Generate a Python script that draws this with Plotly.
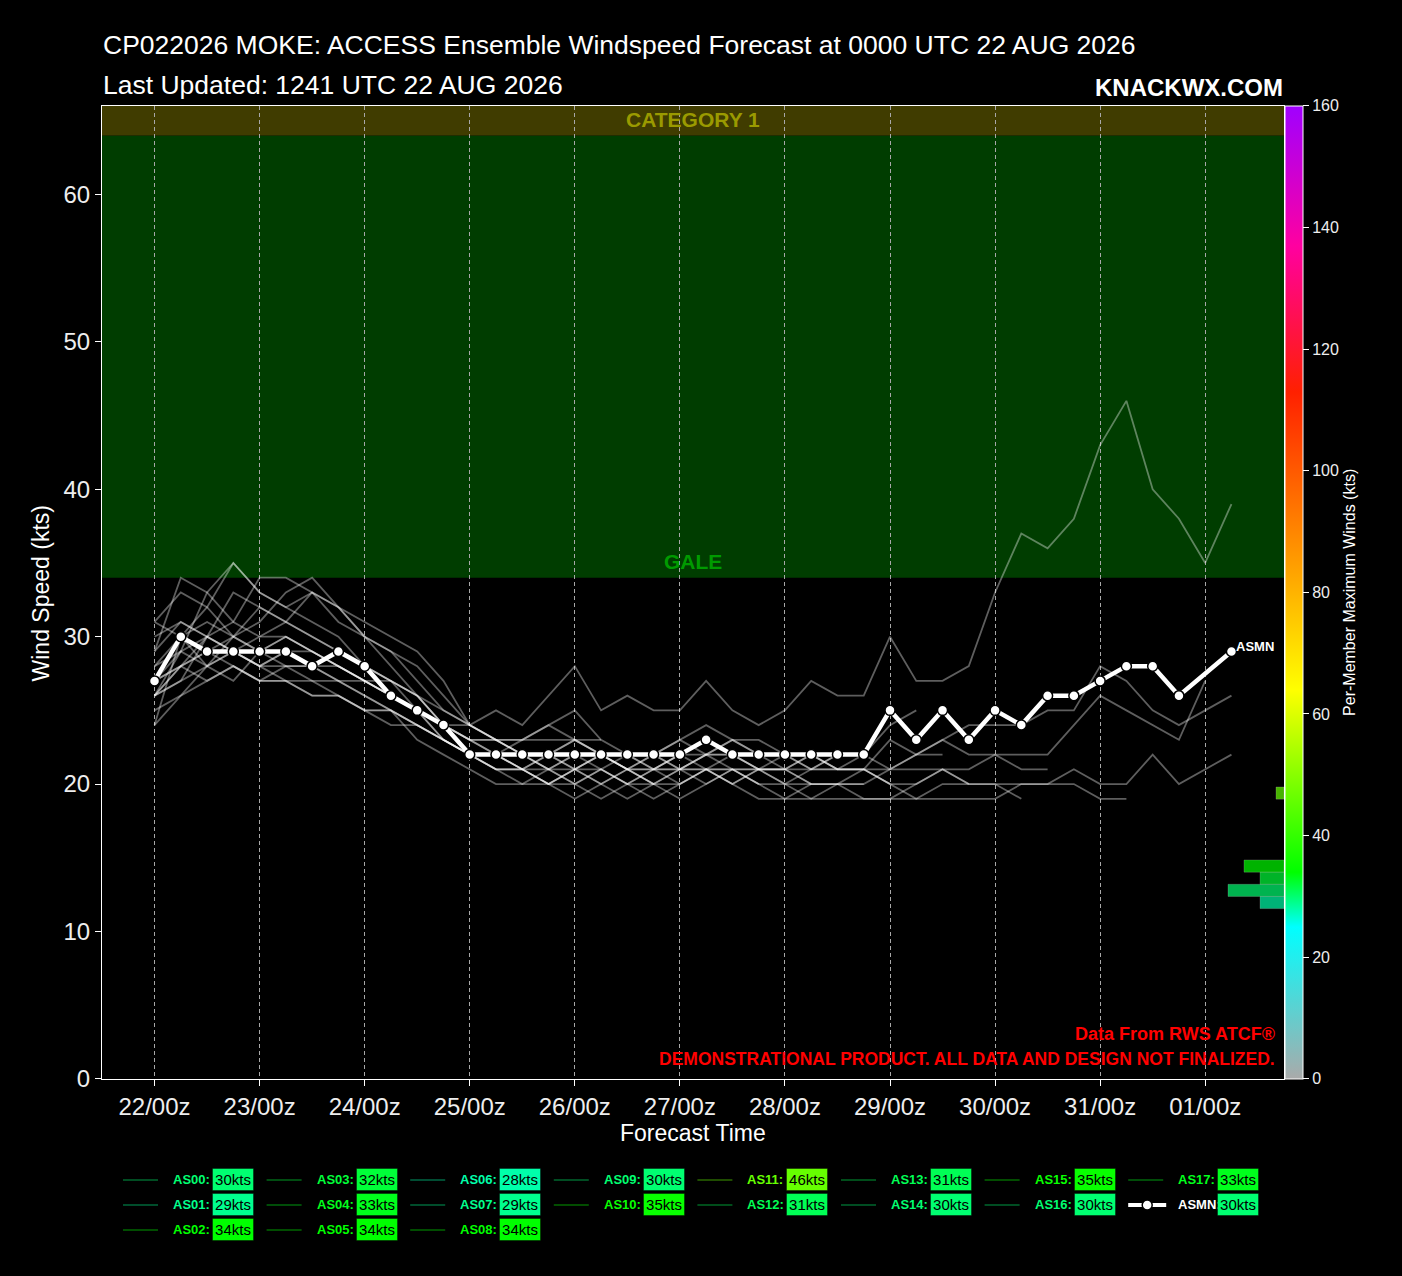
import plotly.graph_objects as go

W, H = 1402, 1276
FIG_H = 1290  # the page is photographed slightly squeezed vertically
FONT = "Liberation Sans, Arial, sans-serif"

# forecast hours from 0000 UTC 22 AUG 2026
HOURS = [0, 6, 12, 18, 24, 30, 36, 42, 48, 54, 60, 66, 72, 78, 84, 90, 96, 102, 108, 114,
         120, 126, 132, 138, 144, 150, 156, 162, 168, 174, 180, 186, 192, 198, 204, 210,
         216, 222, 228, 234, 240, 246]
DAY_TICKS = [0, 24, 48, 72, 96, 120, 144, 168, 192, 216, 240]
DAY_LABELS = ["22/00z", "23/00z", "24/00z", "25/00z", "26/00z", "27/00z",
              "28/00z", "29/00z", "30/00z", "31/00z", "01/00z"]

# member wind speeds (kts), every 6 h until the member ends
AS00 = [28, 29, 30, 29, 28, 28, 27, 27, 26, 25, 24, 23, 22, 22, 21, 21, 22, 22, 21, 21, 22,
        22, 23, 23, 22, 21, 22, 22, 21, 22, 23, 24, 24, 24, 25, 25, 28, 27, 25, 24, 25, 26]
AS01 = [26, 28, 29, 28, 27, 27, 26, 26, 25, 25, 24, 23, 22, 21, 21, 22, 21, 20, 21, 21, 22,
        21, 20, 21, 21, 22, 21, 21, 20, 20, 21, 20]
AS02 = [29, 34, 33, 31, 30, 30, 29, 28, 27, 26, 25, 24, 23, 23, 22, 21, 21, 22, 21, 20, 21,
        22, 22, 21, 20, 21, 21, 21, 20]
AS03 = [27, 28, 29, 30, 32, 31, 30, 29, 28, 27, 26, 25, 24, 23, 22, 22, 23, 22, 22, 21, 21,
        22, 23, 22, 22, 21, 21, 21, 21, 21, 21, 21, 22, 22, 22, 24, 26, 25, 24, 23, 27]
AS04 = [26, 27, 30, 33, 32, 31, 30, 29, 28, 27, 26, 24, 22, 21, 20, 20, 21, 21, 20, 19, 20,
        21, 21, 20, 20, 19, 20, 20]
AS05 = [30, 31, 30, 31, 34, 34, 33, 31, 30, 28, 26, 24, 22, 22, 21, 20, 21, 20, 19, 20, 21,
        21, 22, 21, 21, 20]
AS06 = [24, 26, 27, 28, 27, 27, 26, 26, 25, 24, 24, 23, 22, 21, 21, 20, 20, 21, 20, 20, 19,
        20, 21, 21, 21, 20, 20, 19, 19, 19, 20, 20, 20, 20, 20, 20, 19, 19]
AS07 = [26, 27, 28, 29, 28, 27, 27, 26, 25, 25, 23, 22, 21, 20, 20, 21, 20, 19, 20, 21, 21,
        22, 21, 20, 19, 19, 19, 19, 19, 20, 21, 20, 20, 19]
AS08 = [31, 33, 32, 30, 31, 33, 34, 32, 30, 29, 27, 25, 24, 23, 22, 22, 21, 22, 22, 21, 20,
        21, 21, 20]
AS09 = [27, 29, 28, 30, 29, 28, 28, 27, 26, 25, 24, 23, 22, 22, 21, 22, 23, 22, 21, 22, 21,
        20, 21, 21, 20, 20, 20, 21, 20, 19, 19, 19, 19, 20, 20, 21, 20, 20, 22, 20, 21, 22]
AS10 = [26, 29, 33, 35, 33, 32, 31, 30, 28, 27, 25, 24, 23, 22, 23, 24, 23, 22, 21, 22, 23,
        22, 22]
AS11 = [26, 28, 27, 28, 27, 28, 28, 27, 27, 26, 25, 24, 24, 25, 24, 26, 28, 25, 26, 25, 25,
        27, 25, 24, 25, 27, 26, 26, 30, 27, 27, 28, 33, 37, 36, 38, 43, 46, 40, 38, 35, 39]
AS12 = [28, 30, 31, 30, 29, 30, 29, 28, 27, 26, 25, 23, 22, 21, 21, 20, 21, 22, 21, 20]
AS13 = [29, 31, 30, 29, 28, 29, 28, 28, 27, 27, 26, 24, 23, 23, 23, 23, 23, 23]
AS14 = [25, 26, 28, 27, 29, 30, 29, 28, 27, 26, 25, 24, 23, 22, 22, 21, 20, 21, 22, 22, 21,
        21, 20, 21, 22, 22, 21, 21, 23, 22, 22]
AS15 = [24, 30, 32, 35, 33, 32, 33, 32, 31, 30, 29, 27, 24, 23, 22, 21, 22, 21, 20, 21, 22,
        23, 22, 21, 21, 21, 22]
AS16 = [27, 28, 30, 29, 28, 29, 29, 28, 27, 26, 25, 23, 22, 22, 21, 20, 19, 20, 21, 20, 20,
        21, 20, 19, 19, 20, 20, 20, 21, 22, 23, 22, 22, 21, 21]
AS17 = [31, 30, 28, 29, 30, 31, 33, 32, 30, 29, 28, 26, 24, 23, 23, 24, 25, 23, 22, 22, 23,
        24, 23, 22, 21, 22, 21, 22, 24, 25]
# ensemble mean
ASMN = [27, 30, 29, 29, 29, 29, 28, 29, 28, 26, 25, 24, 22, 22, 22, 22, 22, 22, 22, 22, 22,
        23, 22, 22, 22, 22, 22, 22, 25, 23, 25, 23, 25, 24, 26, 26, 27, 28, 28, 26, None, 29]

MEMBER_NAMES = ["AS00", "AS01", "AS02", "AS03", "AS04", "AS05", "AS06", "AS07", "AS08",
                "AS09", "AS10", "AS11", "AS12", "AS13", "AS14", "AS15", "AS16", "AS17"]
MEMBER_VALUES = [AS00, AS01, AS02, AS03, AS04, AS05, AS06, AS07, AS08,
                 AS09, AS10, AS11, AS12, AS13, AS14, AS15, AS16, AS17]

# colour scale for maximum winds (kts)
CS_STOPS = [(0, "#aaaaaa"), (25, "#00ffff"), (34, "#00ff00"), (64, "#ffff00"),
            (83, "#ffa500"), (113, "#ff2000"), (137, "#ff00a0"), (160, "#a000ff")]
CMAX = 160
colorscale = [[v / CMAX, c] for v, c in CS_STOPS]


def hex2rgb(h):
    return tuple(int(h[i:i + 2], 16) for i in (1, 3, 5))


def wind_rgb(v):
    for (v0, c0), (v1, c1) in zip(CS_STOPS[:-1], CS_STOPS[1:]):
        if v0 <= v <= v1:
            t = (v - v0) / (v1 - v0)
            a, b = hex2rgb(c0), hex2rgb(c1)
            return tuple(round(a[i] + (b[i] - a[i]) * t) for i in range(3))
    return hex2rgb(CS_STOPS[-1][1])


def rgb(v, alpha=1.0):
    r, g, b = wind_rgb(v)
    return f"rgba({r},{g},{b},{alpha})"


def px(x):
    return x / W


def py(y):
    return 1 - y / H


fig = go.Figure()

# members
for name, vals in zip(MEMBER_NAMES, MEMBER_VALUES):
    fig.add_trace(go.Scatter(x=HOURS[:len(vals)], y=vals, mode="lines", name=name,
                             line=dict(color="rgba(255,255,255,0.37)", width=1.8),
                             showlegend=False, hoverinfo="skip"))

# mean
fig.add_trace(go.Scatter(x=HOURS, y=ASMN, mode="lines+markers", name="ASMN",
                         connectgaps=True,
                         line=dict(color="white", width=4.5),
                         marker=dict(size=10, color="white", line=dict(color="black", width=1.5)),
                         showlegend=False, hoverinfo="skip"))

# histogram of per-member maximum winds, 2 kt bins
peaks = [max(v for v in vals if v is not None) for vals in MEMBER_VALUES + [ASMN]]
bins = {}
for p in peaks:
    b = int(p // 2) * 2
    bins[b] = bins.get(b, 0) + 1
edges = sorted(bins)
counts = [bins[b] for b in edges]

fig.add_trace(go.Bar(
    x=counts, y=[b + 1 for b in edges], width=2, orientation="h",
    xaxis="x2", yaxis="y2", showlegend=False, hoverinfo="skip",
    marker=dict(color=edges, colorscale=colorscale, cmin=0, cmax=CMAX, opacity=0.7,
                line=dict(color="rgba(255,255,255,0.25)", width=1),
                showscale=True,
                colorbar=dict(x=px(1285), xanchor="left", y=py(1078), yanchor="bottom",
                              len=972 / H, lenmode="fraction", thickness=18,
                              thicknessmode="pixels", xpad=0, ypad=0,
                              outlinecolor="white", outlinewidth=1,
                              tickvals=list(range(0, 161, 20)), ticks="outside",
                              ticklen=6, tickcolor="white",
                              tickfont=dict(family=FONT, size=16, color="#eeeeee"),
                              title=dict(text="Per-Member Maximum Winds (kts)", side="right",
                                         font=dict(family=FONT, size=16, color="white"))))))

# intensity bands
fig.add_shape(type="rect", xref="x domain", yref="y", x0=0, x1=1, y0=34, y1=64,
              fillcolor="#003d00", line_width=0, layer="below")
fig.add_shape(type="rect", xref="x domain", yref="y", x0=0, x1=1, y0=64, y1=66,
              fillcolor="#403c00", line_width=0, layer="below")

ann = []
ann.append(dict(xref="x domain", yref="y", x=0.5, y=65, text="<b>CATEGORY 1</b>",
                showarrow=False, xanchor="center", yanchor="middle", yshift=1,
                font=dict(family=FONT, size=21, color="#9a9a00")))
ann.append(dict(xref="x domain", yref="y", x=0.5, y=34, text="<b>GALE</b>",
                showarrow=False, xanchor="center", yanchor="bottom", yshift=3,
                font=dict(family=FONT, size=21, color="#009a00")))
ann.append(dict(xref="x", yref="y", x=HOURS[-1], y=ASMN[-1], text="<b>ASMN</b>",
                showarrow=False, xanchor="left", xshift=3, yanchor="bottom", yshift=-5,
                font=dict(family=FONT, size=13, color="white")))

# titles
ann.append(dict(xref="paper", yref="paper", x=px(101), y=py(45), xanchor="left",
                yanchor="middle", showarrow=False,
                text="CP022026 MOKE: ACCESS Ensemble Windspeed Forecast at 0000 UTC 22 AUG 2026",
                font=dict(family=FONT, size=26.5, color="white")))
ann.append(dict(xref="paper", yref="paper", x=px(101), y=py(85), xanchor="left",
                yanchor="middle", showarrow=False,
                text="Last Updated: 1241 UTC 22 AUG 2026",
                font=dict(family=FONT, size=26.5, color="white")))
ann.append(dict(xref="paper", yref="paper", x=px(1285), y=py(87), xanchor="right",
                yanchor="middle", showarrow=False, text="<b>KNACKWX.COM</b>",
                font=dict(family=FONT, size=24, color="white")))
ann.append(dict(xref="paper", yref="paper", x=px(1277), y=py(1033), xanchor="right",
                yanchor="middle", showarrow=False, text="<b>Data From RWS ATCF®</b>",
                font=dict(family=FONT, size=18, color="red")))
ann.append(dict(xref="paper", yref="paper", x=px(1277), y=py(1058), xanchor="right",
                yanchor="middle", showarrow=False,
                text="<b>DEMONSTRATIONAL PRODUCT. ALL DATA AND DESIGN NOT FINALIZED.</b>",
                font=dict(family=FONT, size=17.5, color="red")))
ann.append(dict(xref="paper", yref="paper", x=px(41), y=py(593), textangle=-90,
                xanchor="center", yanchor="middle",
                showarrow=False, text="Wind Speed (kts)",
                font=dict(family=FONT, size=23, color="white")))
ann.append(dict(xref="paper", yref="paper", x=px(693), y=py(1132), showarrow=False,
                xanchor="center", yanchor="middle",
                text="Forecast Time", font=dict(family=FONT, size=23, color="white")))

# legend (column-major, 8 columns)
rows_per_col = [3, 3, 3, 2, 2, 2, 2, 2]
slots = [(c, r) for c, n in enumerate(rows_per_col) for r in range(n)]
entries = list(zip(MEMBER_NAMES + ["ASMN"], peaks))
shapes = []
for (name, peak), (c, r) in zip(entries, slots):
    x0 = 123 + 143.6 * c
    yy = 1179 + 25 * r
    col = rgb(peak)
    if name == "ASMN":
        shapes.append(dict(type="line", xref="paper", yref="paper", x0=px(x0), x1=px(x0 + 38),
                           y0=py(yy), y1=py(yy), line=dict(color="white", width=4)))
        shapes.append(dict(type="circle", xref="paper", yref="paper",
                           x0=px(x0 + 14), x1=px(x0 + 24), y0=py(yy - 5), y1=py(yy + 5),
                           fillcolor="white", line=dict(color="black", width=1.5)))
        label_col = "white"
    else:
        shapes.append(dict(type="line", xref="paper", yref="paper", x0=px(x0), x1=px(x0 + 35),
                           y0=py(yy), y1=py(yy), line=dict(color=rgb(peak, 0.3), width=2)))
        label_col = col
    ann.append(dict(xref="paper", yref="paper", x=px(x0 + 48), y=py(yy), xanchor="left",
                    yanchor="middle", showarrow=False, text=f"<b>{name}:</b>",
                    font=dict(family=FONT, size=13, color=label_col)))
    ann.append(dict(xref="paper", yref="paper", x=px(x0 + 89), y=py(yy), xanchor="left",
                    yanchor="middle", showarrow=False, text=f"{peak}kts",
                    width=38, height=19, borderpad=1, borderwidth=1,
                    bgcolor=col, bordercolor="rgba(0,0,0,0.4)",
                    font=dict(family=FONT, size=15, color="black")))

for s in shapes:
    fig.add_shape(**s)

axis_font = dict(family=FONT, size=24, color="#eeeeee")
fig.update_layout(
    width=W, height=FIG_H,
    margin=dict(l=0, r=0, t=0, b=0),
    paper_bgcolor="black", plot_bgcolor="black",
    showlegend=False,
    annotations=ann,
    xaxis=dict(domain=[px(102), px(1284)], range=[-12, 258],
               tickvals=DAY_TICKS, ticktext=DAY_LABELS, tickfont=axis_font,
               showgrid=True, gridcolor="#a8a8a8", griddash="4px,3px", gridwidth=1,
               zeroline=False, showline=True, linecolor="white", linewidth=1, mirror=True,
               ticks="outside", ticklen=6, tickcolor="white"),
    yaxis=dict(domain=[py(1078), py(106)], range=[0, 66],
               tickvals=[0, 10, 20, 30, 40, 50, 60], tickfont=axis_font,
               showgrid=False, zeroline=False, showline=True, linecolor="white",
               linewidth=1, mirror=True, ticks="outside", ticklen=6, tickcolor="white"),
    xaxis2=dict(overlaying="x", anchor="y2", range=[1182 / 8, 0], visible=False),
    yaxis2=dict(overlaying="y", anchor="x2", range=[0, 160], visible=False),
)

fig.write_html(
    "out.html",
    config={"displayModeBar": False},
    post_script=("var gd=document.getElementById('{plot_id}');"
                 "gd.style.position='fixed';gd.style.top='0';gd.style.left='0';"
                 "document.body.style.margin='0';document.body.style.background='black';"
                 "document.body.style.overflow='hidden';"),
)
